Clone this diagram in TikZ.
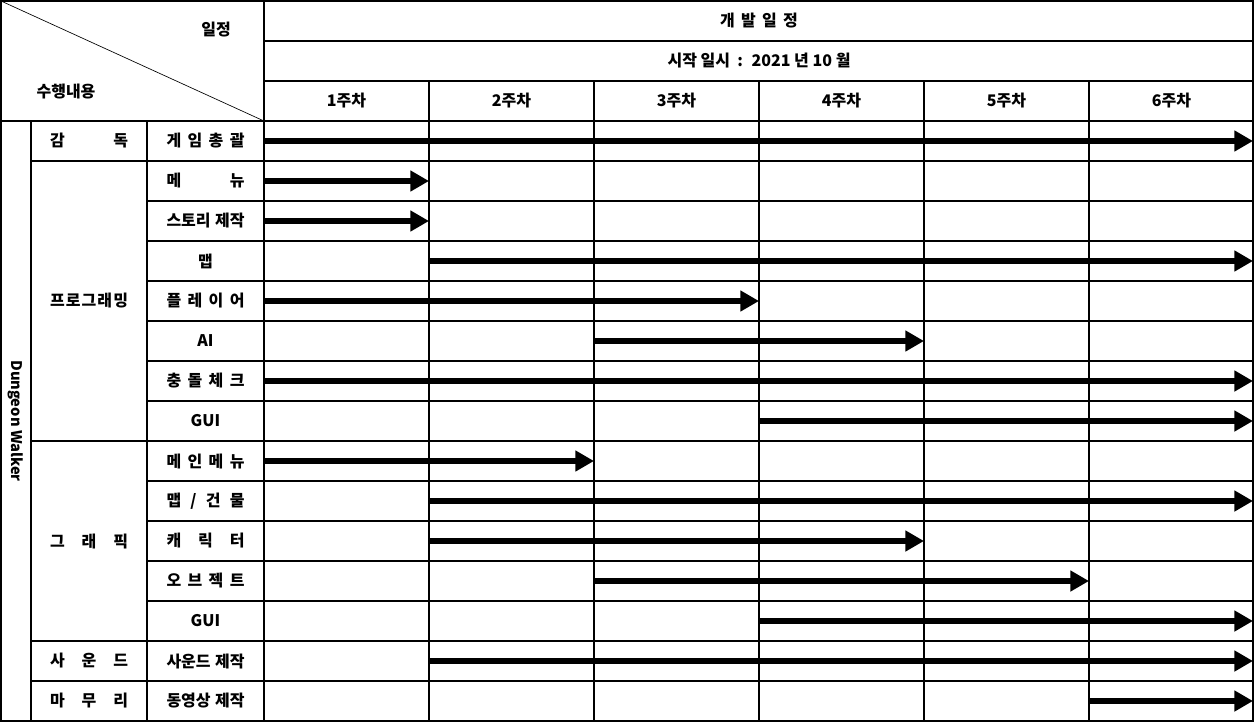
\documentclass[tikz,border=0pt]{standalone}
\usepackage{fontspec}
\setmainfont{Noto Sans CJK KR}
\usetikzlibrary{arrows.meta}
\newcommand\distr[1]{\makebox[58.5pt][s]{#1}}
\begin{document}
\begin{tikzpicture}[x=0.75pt,y=-0.75pt,
  gridline/.style={line width=0.8pt,black},
  outerline/.style={line width=1.6pt,black},
  diagline/.style={line width=0.5pt,black},
  bar/.style={line width=4.6pt,-{Triangle[length=14pt,width=15pt]}},
  lbl/.style={font=\fontsize{12}{14}\selectfont\bfseries,inner sep=0pt},
]
\useasboundingbox (0,0) rectangle (1255,722);
% horizontal lines
\draw[gridline] (264,41) -- (1253,41);
\draw[gridline] (264,81) -- (1253,81);
\draw[gridline] (1,121) -- (1253,121);
\foreach \k in {1,...,14} {\draw[gridline] (147,{121+40*\k}) -- (1253,{121+40*\k});}
\foreach \yy in {161,441,641,681} {\draw[gridline] (31,\yy) -- (147,\yy);}
% vertical lines
\draw[gridline] (264,1) -- (264,721);
\foreach \xx in {429,594,759,924,1089} {\draw[gridline] (\xx,81) -- (\xx,721);}
\draw[gridline] (31,121) -- (31,721);
\draw[gridline] (147,121) -- (147,721);
\draw[diagline] (1,1) -- (264,121);
\draw[outerline] (1,1) rectangle (1253,721);
% header
\node[lbl] (hplan) at (216,30) {일정};
\node[lbl] (hwork) at (66,92) {수행내용};
\node[lbl] (htitle) at (759,21) {개\, 발\, 일\, 정};
\node[lbl] (hstart) at (759,61) {시작 일시 \ : \ 2021 년 10 월};
\foreach \w in {1,...,6} {\node[lbl] (wk\w) at ({264+165*\w-82.5},101) {\w{}주차};}
% left columns
\node[lbl,font=\fontsize{11}{13}\selectfont\bfseries,rotate=-90] (proj) at (16,421) {Dungeon Walker};
\node[lbl] (g1) at (89,141) {\distr{감\hfill 독}};
\node[lbl] (g2) at (89,301) {\distr{프\hfill 로\hfill 그\hfill 래\hfill 밍}};
\node[lbl] (g3) at (89,541) {\distr{그\hfill 래\hfill 픽}};
\node[lbl] (g4) at (89,661) {\distr{사\hfill 운\hfill 드}};
\node[lbl] (g5) at (89,701) {\distr{마\hfill 무\hfill 리}};
% tasks
\node[lbl] (t1) at (205.5,141) {\distr{게\hfill 임\hfill 총\hfill 괄}};
\node[lbl] (t2) at (205.5,181) {\distr{메\hfill 뉴}};
\node[lbl] (t3) at (205.5,221) {\distr{스토리\hfill 제작}};
\node[lbl] (t4) at (205.5,261) {맵};
\node[lbl] (t5) at (205.5,301) {\distr{플\hfill 레\hfill 이\hfill 어}};
\node[lbl] (t6) at (205.5,341) {AI};
\node[lbl] (t7) at (205.5,381) {\distr{충\hfill 돌\hfill 체\hfill 크}};
\node[lbl] (t8) at (205.5,421) {GUI};
\node[lbl] (t9) at (205.5,461) {\distr{메\hfill 인\hfill 메\hfill 뉴}};
\node[lbl] (t10) at (205.5,501) {\distr{맵\hfill /\hfill 건\hfill 물}};
\node[lbl] (t11) at (205.5,541) {\distr{캐\hfill 릭\hfill 터}};
\node[lbl] (t12) at (205.5,581) {\distr{오\hfill 브\hfill 젝\hfill 트}};
\node[lbl] (t13) at (205.5,621) {GUI};
\node[lbl] (t14) at (205.5,661) {\distr{사운드\hfill 제작}};
\node[lbl] (t15) at (205.5,701) {\distr{동영상\hfill 제작}};
% bars
\foreach \r/\s/\e in {1/264/1253,2/264/429,3/264/429,4/429/1253,5/264/759,6/594/924,7/264/1253,8/759/1253,9/264/594,10/429/1253,11/429/924,12/594/1089,13/759/1253,14/429/1253,15/1089/1253} {
  \coordinate (bs\r) at (\s,{101+40*\r});
  \coordinate (be\r) at (\e,{101+40*\r});
  \draw[bar] (bs\r) -- (be\r);
}
\end{tikzpicture}
\end{document}
